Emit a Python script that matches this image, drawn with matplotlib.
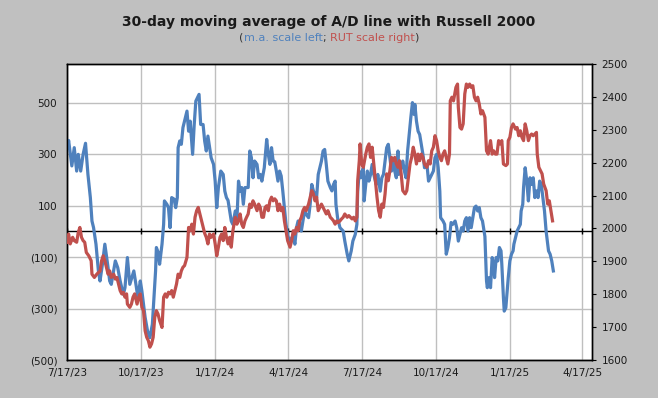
import matplotlib
matplotlib.use("Agg")
import matplotlib.pyplot as plt
import matplotlib.ticker as mticker
import matplotlib.dates as mdates
import pandas as pd

# A/D line 30-day moving average (left scale); x = days after 7/17/23
ad_days = [1, 2, 6, 9, 12, 14, 17, 20, 23, 26, 29, 31, 33, 36, 39, 41, 44, 47, 51, 53,
           55, 60, 63, 66, 70, 72, 75, 78, 83, 86, 88, 91, 93, 95, 97, 100, 103, 106, 108, 110,
           111, 113, 115, 118, 120, 121, 124, 126, 128, 130, 133, 135, 137, 138, 140, 142, 144, 147, 149, 151,
           153, 156, 158, 160, 162, 164, 166, 169, 171, 173, 175, 179, 182, 184, 186, 188, 191, 194, 196, 198,
           200, 202, 204, 206, 209, 211, 213, 215, 217, 219, 221, 225, 227, 229, 231, 233, 236, 238, 240, 242,
           245, 248, 250, 252, 254, 256, 258, 260, 262, 264, 266, 268, 270, 272, 274, 277, 279, 281, 283, 285,
           287, 289, 291, 293, 295, 297, 300, 302, 304, 306, 308, 310, 312, 314, 316, 318, 320, 322, 324, 327,
           329, 331, 333, 334, 336, 339, 343, 345, 348, 350, 353, 355, 358, 360, 361, 363, 365, 368, 369, 371,
           373, 375, 377, 379, 381, 384, 386, 389, 391, 393, 395, 397, 399, 401, 403, 405, 407, 409, 411, 412,
           415, 417, 419, 421, 423, 425, 427, 429, 431, 432, 434, 436, 438, 440, 442, 444, 447, 449, 451, 453,
           455, 457, 459, 461, 463, 464, 467, 469, 471, 473, 475, 477, 479, 482, 484, 486, 488, 490, 492, 494,
           496, 498, 500, 502, 504, 506, 508, 510, 512, 514, 516, 519, 521, 522, 524, 526, 528, 530, 531, 533,
           535, 537, 539, 540, 542, 543, 545, 546, 548, 550, 552, 554, 555, 557, 559, 561, 563, 564, 566, 567,
           569, 571, 573, 575, 577, 579, 581, 583, 585, 587, 589, 591, 593, 595, 598, 600, 602, 604]
ad_ma = [325, 353, 254, 325, 234, 299, 234, 299, 342, 221, 131, 40, 14, -50, -154, -193, -128, -50, -141, -193,
         -206, -115, -141, -193, -245, -219, -102, -206, -154, -214, -258, -193, -232, -283, -334, -387, -413, -361, -258, -154,
         -63, -80, -128, -50, 27, 118, 105, 92, 14, 131, 125, 92, 131, 325, 351, 338, 403, 442, 467, 389,
         428, 299, 415, 506, 519, 532, 415, 415, 350, 312, 370, 286, 260, 195, 92, 170, 234, 221, 156, 131,
         120, 79, 40, 27, 79, 40, 195, 156, 170, 105, 170, 170, 312, 286, 208, 273, 260, 208, 221, 195,
         247, 357, 299, 260, 325, 273, 270, 234, 195, 234, 215, 156, 92, 27, -12, -50, -25, -20, -50, 14,
         40, 20, 1, 40, 79, 66, 53, 105, 182, 157, 144, 131, 221, 247, 273, 312, 318, 260, 195, 170,
         157, 182, 195, 105, 53, 14, 1, -38, -89, -115, -76, -38, -12, 27, 156, 234, 208, 247, 118, 182,
         234, 195, 221, 260, 221, 182, 221, 156, 208, 221, 273, 325, 338, 286, 234, 273, 234, 208, 312, 221,
         247, 273, 234, 208, 312, 377, 442, 500, 454, 493, 428, 389, 376, 338, 299, 247, 260, 195, 208, 221,
         234, 286, 299, 247, 156, 53, 40, 27, -89, -63, -25, 34, 27, 40, 14, -38, -12, 14, 1, 40,
         53, 1, 53, 14, 53, 92, 98, 79, 92, 53, 40, -20, -193, -219, -180, -219, -102, -128, -180, -102,
         -115, -63, -76, -128, -258, -310, -297, -258, -180, -115, -89, -76, -50, -25, 1, 14, 27, 79, 105, 170,
         247, 195, 118, 208, 182, 208, 131, 157, 131, 195, 182, 131, 79, 1, -76, -89, -115, -154]

# Russell 2000 (right scale); x = days after 7/17/23
rut_days = [0, 2, 4, 7, 9, 12, 14, 16, 18, 20, 22, 24, 27, 30, 31, 34, 37, 39, 41, 43,
            45, 47, 49, 51, 53, 55, 58, 60, 62, 64, 66, 68, 70, 72, 74, 75, 78, 80, 82, 84,
            87, 89, 91, 93, 95, 97, 99, 101, 103, 105, 107, 109, 111, 113, 115, 118, 120, 122, 124, 126,
            128, 130, 132, 134, 136, 138, 140, 142, 144, 146, 149, 151, 153, 155, 157, 159, 161, 163, 165, 167,
            169, 171, 173, 175, 177, 179, 182, 184, 186, 188, 190, 192, 194, 196, 198, 200, 202, 204, 206, 209,
            211, 213, 215, 217, 219, 221, 223, 225, 227, 229, 231, 233, 236, 238, 240, 242, 244, 246, 248, 250,
            252, 254, 256, 258, 260, 262, 264, 266, 268, 270, 272, 274, 277, 279, 281, 283, 285, 287, 289, 291,
            293, 295, 297, 300, 302, 304, 306, 308, 310, 312, 314, 316, 318, 320, 322, 324, 327, 329, 331, 333,
            335, 337, 339, 341, 343, 345, 348, 350, 352, 354, 356, 358, 360, 361, 363, 364, 366, 368, 371, 373,
            375, 377, 379, 381, 383, 385, 387, 389, 391, 393, 395, 397, 399, 401, 403, 405, 407, 409, 411, 413,
            415, 417, 420, 422, 424, 426, 428, 430, 432, 434, 436, 438, 440, 442, 444, 447, 449, 451, 453, 455,
            457, 459, 461, 463, 465, 467, 469, 471, 473, 475, 476, 478, 480, 483, 485, 486, 488, 490, 492, 494,
            496, 498, 500, 502, 504, 506, 508, 510, 512, 514, 516, 519, 521, 523, 526, 528, 530, 532, 534, 536,
            538, 540, 542, 545, 547, 548, 550, 552, 554, 557, 559, 561, 563, 565, 567, 569, 571, 573, 575, 577,
            579, 581, 583, 584, 586, 588, 590, 592, 595, 597, 599, 601, 603]
rut_close = [1958, 1983, 1953, 1973, 1963, 1958, 1988, 2003, 1973, 1963, 1958, 1927, 1917, 1902, 1861, 1851, 1861, 1866, 1870, 1902,
             1917, 1902, 1882, 1861, 1871, 1851, 1861, 1846, 1851, 1831, 1811, 1801, 1806, 1791, 1801, 1770, 1760, 1770, 1791, 1801,
             1770, 1791, 1801, 1760, 1750, 1689, 1669, 1659, 1639, 1649, 1669, 1730, 1750, 1740, 1720, 1699, 1791, 1801, 1791, 1806,
             1801, 1811, 1791, 1811, 1831, 1861, 1851, 1871, 1882, 1887, 1912, 2003, 1993, 2013, 1983, 2034, 2054, 2064, 2044, 2023,
             2003, 1985, 1973, 1953, 1983, 1973, 1983, 1953, 1917, 1943, 1973, 1983, 1963, 2003, 1973, 1953, 1973, 1943, 1993, 2034,
             2013, 2023, 2044, 2013, 2003, 2023, 2034, 2044, 2074, 2064, 2084, 2074, 2054, 2074, 2064, 2034, 2034, 2064, 2069, 2054,
             2084, 2095, 2084, 2090, 2084, 2054, 2074, 2054, 2064, 2023, 1993, 1963, 1943, 1963, 1993, 1983, 2003, 1993, 2023, 2034,
             2054, 2064, 2054, 2074, 2095, 2115, 2105, 2084, 2095, 2054, 2064, 2074, 2064, 2054, 2044, 2054, 2034, 2029, 2023, 2013,
             2023, 2018, 2023, 2029, 2034, 2044, 2034, 2039, 2034, 2029, 2034, 2023, 2034, 2145, 2206, 2257, 2196, 2186, 2226, 2247,
             2257, 2216, 2247, 2196, 2145, 2095, 2054, 2034, 2074, 2064, 2105, 2166, 2145, 2176, 2216, 2206, 2216, 2196, 2186, 2206,
             2166, 2115, 2105, 2115, 2155, 2196, 2216, 2247, 2226, 2196, 2226, 2206, 2226, 2216, 2196, 2186, 2206, 2196, 2236, 2247,
             2282, 2267, 2236, 2216, 2206, 2226, 2236, 2216, 2196, 2226, 2388, 2399, 2388, 2429, 2439, 2368, 2307, 2302, 2318, 2409,
             2439, 2429, 2439, 2429, 2434, 2399, 2388, 2399, 2378, 2348, 2358, 2338, 2236, 2226, 2267, 2226, 2236, 2226, 2226, 2267,
             2257, 2267, 2196, 2191, 2196, 2267, 2277, 2307, 2318, 2302, 2307, 2282, 2297, 2277, 2267, 2318, 2297, 2267, 2282, 2287,
             2282, 2287, 2292, 2226, 2186, 2176, 2166, 2135, 2115, 2074, 2084, 2054, 2023]

start = pd.Timestamp("2023-07-17")
tick_labels = ["7/17/23", "10/17/23", "1/17/24", "4/17/24", "7/17/24", "10/17/24", "1/17/25", "4/17/25"]
left_ticks = [-500, -300, -100, 100, 300, 500]
right_ticks = [1600, 1700, 1800, 1900, 2000, 2100, 2200, 2300, 2400, 2500]

blue = "#4F81BD"
red = "#C0504D"
grid = "#BFBFBF"
txt = "#1a1a1a"
plt.rcParams["font.family"] = "DejaVu Sans"

ad_x = start + pd.to_timedelta(ad_days, unit="D")
rut_x = start + pd.to_timedelta(rut_days, unit="D")
tick_dates = pd.to_datetime(tick_labels, format="%m/%d/%y")

fig = plt.figure(figsize=(6.58, 3.98), dpi=100, facecolor="#C0C0C0")
ax = fig.add_axes([67/658, 38/398, 525/658, 296/398])
ax.set_facecolor("white")

ax.plot(ad_x, ad_ma, color=blue, lw=2.3, solid_joinstyle="round", zorder=3)
ax.set_ylim(-500, 650)
ax.set_xlim(start, pd.Timestamp("2025-04-29"))
ax.set_yticks(left_ticks)
ax.yaxis.set_major_formatter(mticker.FuncFormatter(
    lambda v, _: "({:d})".format(abs(int(v))) if v < 0 else "{:d}".format(int(v))))
ax.set_xticks(tick_dates)
ax.set_xticklabels(tick_labels)
ax.grid(True, color=grid, lw=1)
ax.set_axisbelow(True)
ax.tick_params(axis="y", length=0, pad=7, labelsize=7.5, labelcolor=txt)
ax.tick_params(axis="x", length=0, pad=5.5, labelsize=7.5, labelcolor=txt)

# zero line with small date ticks
ax.axhline(0, color="black", lw=1, zorder=2)
ax.plot(tick_dates, [0]*len(tick_dates), ls="none", marker="|", ms=5, mew=1,
        color="black", zorder=2)

for s in ax.spines.values():
    s.set_color("black")
    s.set_linewidth(1)

ax2 = ax.twinx()
ax2.plot(rut_x, rut_close, color=red, lw=2.3, solid_joinstyle="round", zorder=3)
ax2.set_ylim(1600, 2500)
ax2.set_yticks(right_ticks)
ax2.tick_params(axis="y", length=3, width=0.8, pad=4, labelsize=7.5, labelcolor=txt, color="black")
for s in ax2.spines.values():
    s.set_color("black")
    s.set_linewidth(1)

fig.text(0.5, 1 - 22/398, "30-day moving average of A/D line with Russell 2000",
         ha="center", va="center", fontsize=10, fontweight="bold", color=txt)

# subtitle with coloured pieces
parts = [("(", "#333333"), ("m.a. scale left", blue), (";", "#333333"),
         ("RUT scale right", red), (")", "#333333")]
gaps = [0, 0, 0, 2.4, 0]
first = fig.text(0.5, 1 - 43/398, parts[0][0], color=parts[0][1], fontsize=8,
                 ha="left", va="bottom")
pieces = [first]
for (s, c), g in zip(parts[1:], gaps[1:]):
    t = fig.add_artist(plt.Annotation(s, xy=(1, 0), xycoords=pieces[-1],
                                      xytext=(g, 0), textcoords="offset points",
                                      color=c, fontsize=8, ha="left", va="bottom"))
    pieces.append(t)

fig.canvas.draw()
r = fig.canvas.get_renderer()
x0 = pieces[0].get_window_extent(r).x0
x1 = pieces[-1].get_window_extent(r).x1
W = fig.bbox.width
first.set_x(first.get_position()[0] + (W/2 - (x0 + x1)/2) / W)

fig.savefig("out.png", dpi=100, facecolor=fig.get_facecolor())
